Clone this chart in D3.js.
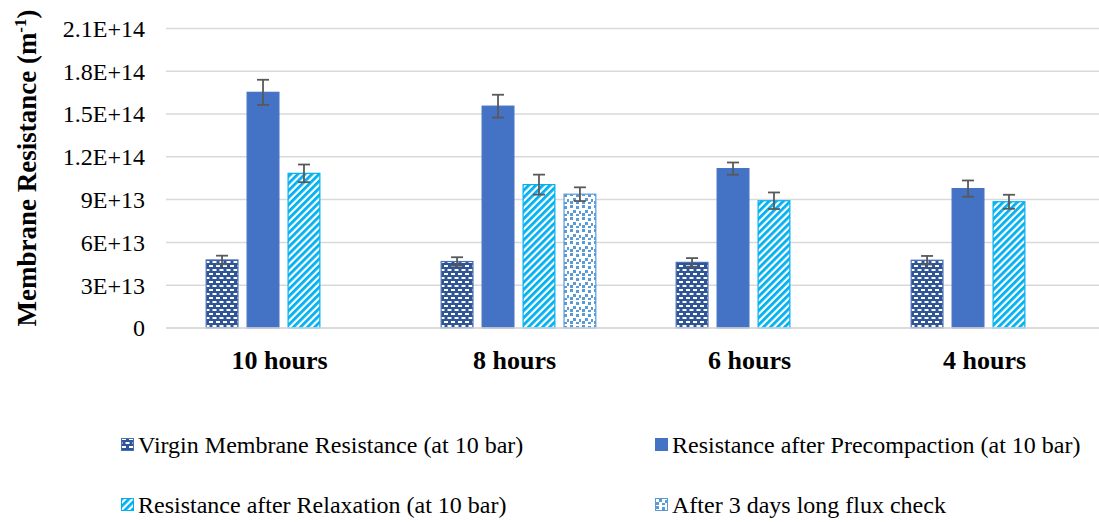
<!DOCTYPE html>
<html><head><meta charset="utf-8">
<script src="https://cdn.jsdelivr.net/npm/d3@7"></script>
<style>body{margin:0;background:#fff;}svg{display:block;}</style>
</head><body>
<svg id="c" width="1099" height="522"></svg>
<script>
const categories = ["10 hours", "8 hours", "6 hours", "4 hours"];
const seriesNames = [
  "Virgin Membrane Resistance (at 10 bar)",
  "Resistance after Precompaction (at 10 bar)",
  "Resistance after Relaxation (at 10 bar)",
  "After 3 days long flux check"
];
const virgin      = [4.77e13, 4.66e13, 4.60e13, 4.75e13];
const precomp     = [1.652e14, 1.555e14, 1.117e14, 9.77e13];
const relax       = [1.084e14, 1.005e14, 8.92e13, 8.85e13];
const after3      = [null, 9.38e13, null, null];
const virginErr   = [0.30e13, 0.30e13, 0.30e13, 0.30e13];
const precompErr  = [0.88e13, 0.80e13, 0.43e13, 0.57e13];
const relaxErr    = [0.62e13, 0.70e13, 0.58e13, 0.49e13];
const after3Err   = [null, 0.48e13, null, null];
const yTicks = [0, 3e13, 6e13, 9e13, 1.2e14, 1.5e14, 1.8e14, 2.1e14];
const yTickLabels = ["0", "3E+13", "6E+13", "9E+13", "1.2E+14", "1.5E+14", "1.8E+14", "2.1E+14"];

const values = [virgin, precomp, relax, after3];
const errors = [virginErr, precompErr, relaxErr, after3Err];
const fills = ["url(#pVirgin)", "#4472C4", "url(#pRelax)", "url(#pAfter)"];
const strokes = ["#4A6FB5", "#4472C4", "#00B0F0", "#5B9BD5"];
const FONT = "'Liberation Serif', 'Times New Roman', serif";

const svg = d3.select("#c");
const defs = svg.append("defs");
// Virgin: dark blue with white dashes
const pv = defs.append("pattern").attr("id","pVirgin").attr("patternUnits","userSpaceOnUse")
  .attr("width",7).attr("height",8);
pv.append("rect").attr("width",7).attr("height",8).attr("fill","#2F5597");
pv.append("rect").attr("x",1).attr("y",1).attr("width",4).attr("height",2).attr("fill","#fff");
pv.append("rect").attr("x",4.5).attr("y",5).attr("width",4).attr("height",2).attr("fill","#fff");
pv.append("rect").attr("x",-2.5).attr("y",5).attr("width",4).attr("height",2).attr("fill","#fff");
// Relax: upward diagonal cyan stripes
const pr = defs.append("pattern").attr("id","pRelax").attr("patternUnits","userSpaceOnUse")
  .attr("width",5).attr("height",5).attr("patternTransform","rotate(45)");
pr.append("rect").attr("width",5).attr("height",5).attr("fill","#fff");
pr.append("rect").attr("width",2.8).attr("height",5).attr("fill","#00B0F0");
// After 3 days: confetti squares
const pa = defs.append("pattern").attr("id","pAfter").attr("patternUnits","userSpaceOnUse")
  .attr("width",12).attr("height",12);
pa.append("rect").attr("width",12).attr("height",12).attr("fill","#fff");
[[1,1],[7,2],[4,6],[10,7],[1,9],[7,10]].forEach(([x,y])=>{
  pa.append("rect").attr("x",x).attr("y",y).attr("width",3).attr("height",3).attr("fill","#5B9BD5");
});

const x0 = d3.scaleBand().domain(categories).range([166, 1106]).paddingInner(0).paddingOuter(0);
const bw = x0.bandwidth();
const gapOuter = bw * 0.134;
const x1 = d3.scaleBand().domain(d3.range(4)).range([gapOuter, bw - gapOuter]).padding(0.2);
const y = d3.scaleLinear().domain([0, 2.1e14]).range([328, 28.4]);

// gridlines
svg.append("g").selectAll("line").data(yTicks).join("line")
  .attr("x1",166).attr("x2",1106)
  .attr("y1",d=>y(d)).attr("y2",d=>y(d))
  .attr("stroke","#D9D9D9").attr("stroke-width",1.5);

// y tick labels via axis
const yAxis = d3.axisLeft(y).tickValues(yTicks).tickFormat((d,i)=>yTickLabels[i]).tickSize(0).tickPadding(0);
const yg = svg.append("g").attr("transform","translate(145,0)").call(yAxis);
yg.select(".domain").remove();
yg.selectAll("text").attr("font-family",FONT)
  .attr("font-size",24).attr("fill","#000").attr("dy","0.33em");

// bars
const groups = svg.append("g").selectAll("g").data(categories).join("g")
  .attr("transform",d=>`translate(${x0(d)},0)`);
values.forEach((vals, s)=>{
  groups.each(function(c, i){
    const v = vals[i];
    if (v == null) return;
    const g = d3.select(this);
    g.append("rect")
      .attr("x", x1(s)+0.5).attr("width", x1.bandwidth()-1)
      .attr("y", y(v)).attr("height", y(0)-y(v))
      .attr("fill", fills[s]).attr("stroke", strokes[s]).attr("stroke-width", 1.2);
    const e = errors[s][i];
    const cx = x1(s) + x1.bandwidth()/2;
    const eg = g.append("g").attr("stroke","#595959").attr("stroke-width",1.8);
    eg.append("line").attr("x1",cx).attr("x2",cx).attr("y1",y(v+e)).attr("y2",y(v-e));
    eg.append("line").attr("x1",cx-6).attr("x2",cx+6).attr("y1",y(v+e)).attr("y2",y(v+e));
    eg.append("line").attr("x1",cx-6).attr("x2",cx+6).attr("y1",y(v-e)).attr("y2",y(v-e));
  });
});

// x axis line
svg.append("line").attr("x1",166).attr("x2",1106).attr("y1",y(0)).attr("y2",y(0))
  .attr("stroke","#D9D9D9").attr("stroke-width",1.5);
const xAxis = d3.axisBottom(x0).tickSize(0).tickPadding(0);
const xg = svg.append("g").attr("transform",`translate(-4,${y(0)})`).call(xAxis);
xg.select(".domain").remove();
xg.selectAll("text").attr("font-family",FONT)
  .attr("font-size",26).attr("font-weight","bold").attr("fill","#000")
  .attr("dy",null).attr("y",41);

// y title
const yt = svg.append("text").attr("transform","translate(36,168) rotate(-90)")
  .attr("text-anchor","middle")
  .attr("font-family",FONT)
  .attr("font-size",27).attr("font-weight","bold").attr("fill","#000");
yt.append("tspan").text("Membrane Resistance (m");
yt.append("tspan").attr("font-size",17).attr("dy",-10).text("-1");
yt.append("tspan").attr("dy",10).text(")");

// legend
const legPos = [[121,445],[655,445],[121,505],[655,505]];
const leg = svg.append("g").selectAll("g").data(seriesNames).join("g")
  .attr("transform",(d,i)=>`translate(${legPos[i][0]},${legPos[i][1]})`);
leg.append("rect").attr("x",0.5).attr("y",-6.5).attr("width",12).attr("height",12)
  .attr("fill",(d,i)=>fills[i]).attr("stroke",(d,i)=>strokes[i]).attr("stroke-width",1);
leg.append("text").attr("x",17).attr("y",0).attr("dy","0.35em")
  .attr("font-family",FONT)
  .attr("font-size",24).attr("fill","#000").text(d=>d);
</script>
</body></html>
